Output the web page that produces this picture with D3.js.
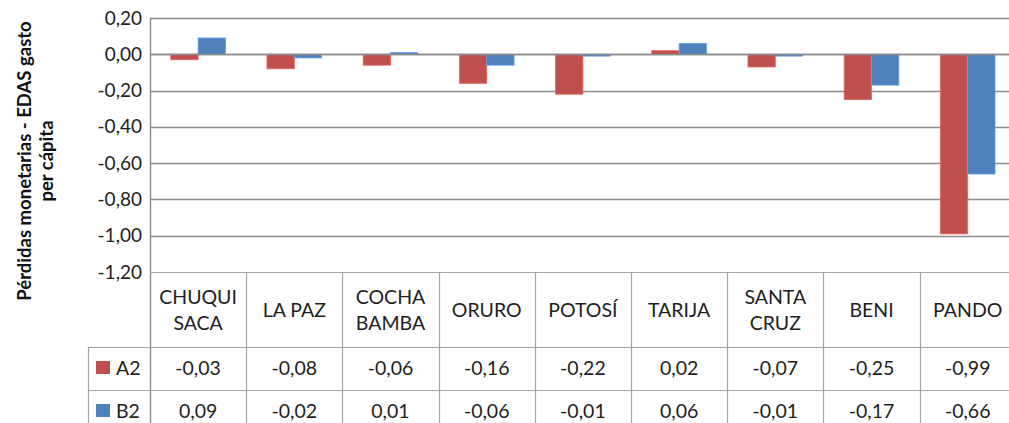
<!DOCTYPE html>
<html>
<head>
<meta charset="utf-8">
<script src="https://cdn.jsdelivr.net/npm/d3@7"></script>
<style>
  body { margin: 0; background: #fff; }
  svg { display: block; font-family: Lato, "Open Sans", sans-serif; }
</style>
</head>
<body>
<svg class="chart-perdidas" width="1009" height="423"></svg>
<script>
// departamentos (header rows of the data table)
var categories = ["CHUQUI\nSACA", "LA PAZ", "COCHA\nBAMBA", "ORURO", "POTOSÍ", "TARIJA", "SANTA\nCRUZ", "BENI", "PANDO"];
var seriesNames = ["A2", "B2"];
var valuesA2 = [-0.03, -0.08, -0.06, -0.16, -0.22, 0.02, -0.07, -0.25, -0.99];
var valuesB2 = [0.09, -0.02, 0.01, -0.06, -0.01, 0.06, -0.01, -0.17, -0.66];
var yTicks = [0.2, 0, -0.2, -0.4, -0.6, -0.8, -1.0, -1.2];
var yTitle = ["Pérdidas monetarias - EDAS gasto", "per cápita"];

var colors = { A2: "#c0504d", B2: "#4f81bd" };
var series = [
    { name: seriesNames[0], values: valuesA2 },
    { name: seriesNames[1], values: valuesB2 }
];

var loc = d3.formatLocale({ decimal: ",", thousands: ".", grouping: [3], currency: ["", ""], minus: "-" });
var fmt = loc.format(".2f");

var svg = d3.select("svg.chart-perdidas");

/* layout */
var plot = { left: 150, top: 18, bottom: 272 };
var colW = 96.2;
var plotRight = plot.left + colW * categories.length;
var table = { headerBottom: 347, rowH: 43, legendLeft: 88 };

var x = d3.scaleBand()
    .domain(d3.range(categories.length))
    .range([plot.left, plotRight])
    .paddingInner(0)
    .paddingOuter(0);

// two bars, ~27px each, centred in the category
var xs = d3.scaleBand()
    .domain(seriesNames)
    .range([0, x.bandwidth()])
    .paddingInner(0)
    .paddingOuter(0.76);

var y = d3.scaleLinear()
    .domain([-1.2, 0.2])
    .range([plot.bottom, plot.top]);

var gridColor = "#8c8c8c";
var tableColor = "#a6a6a6";
var textColor = "#1e1e1e";

/* grid lines */
svg.append("g")
    .selectAll("line.grid")
    .data(yTicks.filter(function (d) { return d > -1.2; }))
    .enter()
    .append("line")
    .attr("class", "grid")
    .attr("x1", plot.left)
    .attr("x2", plotRight)
    .attr("y1", function (d) { return Math.round(y(d)) + 0.5; })
    .attr("y2", function (d) { return Math.round(y(d)) + 0.5; })
    .attr("stroke", gridColor)
    .attr("stroke-width", 1.6);

/* y tick labels */
var yAxis = d3.axisLeft(y)
    .tickValues(yTicks)
    .tickFormat(fmt)
    .tickSize(0)
    .tickPadding(8);

var ga = svg.append("g")
    .attr("transform", "translate(" + plot.left + ",0)")
    .call(yAxis);
ga.select(".domain").remove();
ga.selectAll("text")
    .attr("font-family", "Lato, sans-serif")
    .attr("font-size", 19)
    .attr("fill", textColor);

/* y title */
svg.append("text")
    .attr("transform", "translate(31,161) rotate(-90)")
    .attr("text-anchor", "middle")
    .attr("font-size", 18.5)
    .attr("font-weight", "bold")
    .attr("fill", "#111")
    .selectAll("tspan")
    .data(yTitle)
    .enter()
    .append("tspan")
    .attr("x", 0)
    .attr("dy", function (d, i) { return i === 0 ? 0 : 22; })
    .text(function (d) { return d; });

/* bars */
series.forEach(function (s) {
    svg.append("g")
        .selectAll("rect")
        .data(s.values)
        .enter()
        .append("rect")
        .attr("x", function (d, i) { return x(i) + xs(s.name); })
        .attr("width", xs.bandwidth())
        .attr("y", function (d) { return y(Math.max(0, d)); })
        .attr("height", function (d) { return Math.abs(y(d) - y(0)); })
        .attr("fill", colors[s.name])
        .attr("stroke", d3.color(colors[s.name]).brighter(0.6))
        .attr("stroke-width", 0.8);
});

/* zero line on top of bars */
svg.append("line")
    .attr("x1", plot.left).attr("x2", plotRight)
    .attr("y1", Math.round(y(0)) + 0.5).attr("y2", Math.round(y(0)) + 0.5)
    .attr("stroke", gridColor).attr("stroke-width", 1.6);

/* left axis line */
svg.append("line")
    .attr("x1", plot.left + 0.5).attr("x2", plot.left + 0.5)
    .attr("y1", plot.top).attr("y2", 423)
    .attr("stroke", gridColor).attr("stroke-width", 1.4);

/* data table */
var tbl = svg.append("g").attr("class", "data-table");
var rowTops = [plot.bottom, table.headerBottom, table.headerBottom + table.rowH, table.headerBottom + 2 * table.rowH];

// horizontal lines
tbl.selectAll("line.h")
    .data(rowTops)
    .enter()
    .append("line")
    .attr("x1", function (d, i) { return i === 0 ? plot.left : table.legendLeft; })
    .attr("x2", plotRight)
    .attr("y1", function (d) { return Math.round(d) + 0.5; })
    .attr("y2", function (d) { return Math.round(d) + 0.5; })
    .attr("stroke", tableColor)
    .attr("stroke-width", 1.2);

// vertical lines
tbl.selectAll("line.v")
    .data(d3.range(1, categories.length + 1))
    .enter()
    .append("line")
    .attr("x1", function (d) { return Math.round(plot.left + d * colW) + 0.5; })
    .attr("x2", function (d) { return Math.round(plot.left + d * colW) + 0.5; })
    .attr("y1", plot.bottom)
    .attr("y2", 423)
    .attr("stroke", tableColor)
    .attr("stroke-width", 1.2);

tbl.append("line")
    .attr("x1", table.legendLeft + 0.5).attr("x2", table.legendLeft + 0.5)
    .attr("y1", table.headerBottom).attr("y2", 423)
    .attr("stroke", tableColor).attr("stroke-width", 1.2);

// header labels
tbl.selectAll("text.cat")
    .data(categories)
    .enter()
    .append("text")
    .attr("class", "cat")
    .attr("text-anchor", "middle")
    .attr("font-size", 19.5)
    .attr("fill", textColor)
    .each(function (d, i) {
        var lines = d.split("\n");
        var cy = (plot.bottom + table.headerBottom) / 2;
        var lh = 26;
        var t = d3.select(this);
        lines.forEach(function (l, k) {
            t.append("tspan")
                .attr("x", x(i) + x.bandwidth() / 2)
                .attr("y", cy + (k - (lines.length - 1) / 2) * lh + 7)
                .text(l);
        });
    });

// value rows
series.forEach(function (s, r) {
    var top = table.headerBottom + r * table.rowH;
    tbl.append("g")
        .selectAll("text")
        .data(s.values)
        .enter()
        .append("text")
        .attr("x", function (d, i) { return x(i) + x.bandwidth() / 2; })
        .attr("y", top + 28)
        .attr("text-anchor", "middle")
        .attr("font-size", 19.5)
        .attr("fill", textColor)
        .text(function (d) { return fmt(d); });

    // legend key
    tbl.append("rect")
        .attr("x", 96)
        .attr("y", top + 14)
        .attr("width", 14)
        .attr("height", 13)
        .attr("fill", colors[s.name]);
    tbl.append("text")
        .attr("x", 116)
        .attr("y", top + 28)
        .attr("font-size", 19.5)
        .attr("fill", textColor)
        .text(s.name);
});
</script>
</body>
</html>
